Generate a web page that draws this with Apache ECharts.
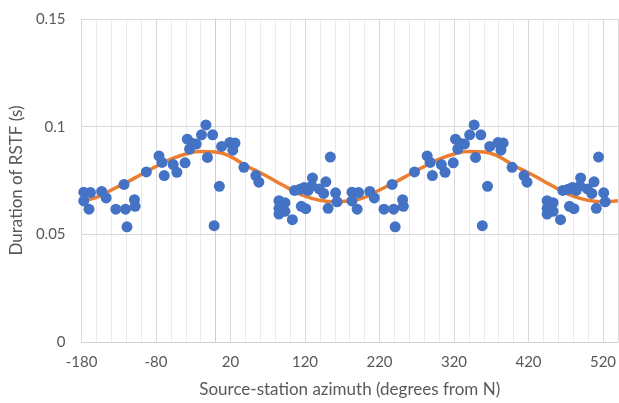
<!DOCTYPE html>
<html>
<head>
<meta charset="utf-8">
<script src="https://cdn.jsdelivr.net/npm/echarts@6/dist/echarts.min.js"></script>
<style>
html,body{margin:0;padding:0;background:#fff;}
#chart{width:619px;height:403px;}
</style>
</head>
<body>
<div id="chart"></div>
<script>
// Observed points (azimuth in degrees, duration in s), first period
const azimuthA = [-177,-177,-168,-170,-153,-147,-123,-134,-121,-109,-108,-119,-93,-76,-72,-69,
  -57,-52,-41,-38,-35,-31,-26,-19,-13,-4,-11,5,-2,8,19,26,23,38,54,58,
  85,93,85,93,85,103,106,113,115,121,119,130,129,124,139,145,148,154,151,161,163];
const durationA = [0.0696,0.0655,0.0694,0.0617,0.0699,0.0669,0.0732,0.0617,0.0617,0.0661,0.0630,0.0535,0.0790,0.0864,0.0834,0.0773,
  0.0824,0.0788,0.0832,0.0942,0.0896,0.0922,0.0919,0.0962,0.1008,0.0962,0.0857,0.0723,0.0540,0.0908,0.0926,0.0924,0.0891,0.0811,0.0773,0.0742,
  0.0656,0.0647,0.0621,0.0607,0.0594,0.0568,0.0704,0.0709,0.0630,0.0619,0.0718,0.0762,0.0725,0.0704,0.0711,0.0690,0.0744,0.0859,0.0621,0.0693,0.0651];
// Same points, plotted again one turn later (azimuth + 360)
const azimuthB = [183,183,192,190,207,213,237,226,239,251,252,241,267,284,288,291,
  303,308,319,322,325,329,334,341,347,356,349,365,358,368,379,386,383,398,414,418,
  445,453,445,453,445,463,466,473,475,481,479,490,489,484,499,505,508,514,511,521,523];
const durationB = durationA;

// Fitted curve
const curveX = [-180,-160,-140,-120,-100,-80,-60,-40,-20,0,20,40,60,80,100,120,140,160,
  180,200,220,240,260,280,300,320,340,360,380,400,420,440,460,480,500,520,540];
const curveY = [0.0656,0.0672,0.0706,0.0740,0.0778,0.0815,0.0849,0.0873,0.0885,0.0882,0.0861,0.0820,0.0786,0.0748,0.0710,0.0677,0.0658,0.0651,
  0.0656,0.0672,0.0706,0.0740,0.0778,0.0815,0.0849,0.0873,0.0885,0.0882,0.0861,0.0820,0.0786,0.0748,0.0710,0.0677,0.0658,0.0651,0.0656];

const xTicks = {min:-180, max:540, interval:100};
const yTicks = {min:0, max:0.15, interval:0.05};

const FONT = 'Lato';
const pts = azimuthA.map((a,i)=>[a,durationA[i]]).concat(azimuthB.map((a,i)=>[a,durationB[i]]));
const curve = curveX.map((x,i)=>[x,curveY[i]]);

const chart = echarts.init(document.getElementById('chart'), null, {renderer:'canvas'});
chart.setOption({
  animation:false,
  backgroundColor:'#ffffff',
  grid:{left:80, top:19, right:0, bottom:58, containLabel:false},
  xAxis:[{
    type:'value', min:xTicks.min, max:xTicks.max, interval:xTicks.interval,
    name:'Source-station azimuth (degrees from N)', nameLocation:'middle', nameGap:39,
    nameTextStyle:{fontFamily:FONT, fontSize:17, color:'#595959'},
    axisLine:{show:true, onZero:false, lineStyle:{color:'#d0d0d0', width:1}},
    axisTick:{show:false},
    axisLabel:{fontFamily:FONT, fontSize:15, color:'#595959', margin:13, showMaxLabel:false},
    splitLine:{show:true, lineStyle:{color:'#d9d9d9', width:1}}
  },{
    type:'value', min:xTicks.min, max:xTicks.max, interval:20, position:'bottom',
    axisLine:{show:false}, axisTick:{show:false}, axisLabel:{show:false},
    splitLine:{show:true, lineStyle:{color:'#ebebeb', width:1}}, z:-1
  }],
  yAxis:{
    type:'value', min:yTicks.min, max:yTicks.max, interval:yTicks.interval,
    name:'Duration of RSTF (s)', nameLocation:'middle', nameGap:51,
    nameTextStyle:{fontFamily:FONT, fontSize:17, color:'#595959'},
    axisLine:{show:true, lineStyle:{color:'#d0d0d0'}},
    axisTick:{show:false},
    axisLabel:{fontFamily:FONT, fontSize:15, color:'#595959', margin:16},
    splitLine:{show:true, lineStyle:{color:'#d9d9d9', width:1}}
  },
  series:[{
    type:'line', data:curve, smooth:true, showSymbol:false, symbol:'none',
    lineStyle:{color:'#ED7D31', width:3.5}, z:2
  },{
    type:'scatter', data:pts, symbol:'circle', symbolSize:11,
    itemStyle:{color:'#4472C4', opacity:1}, z:3
  }]
});
</script>
</body>
</html>
